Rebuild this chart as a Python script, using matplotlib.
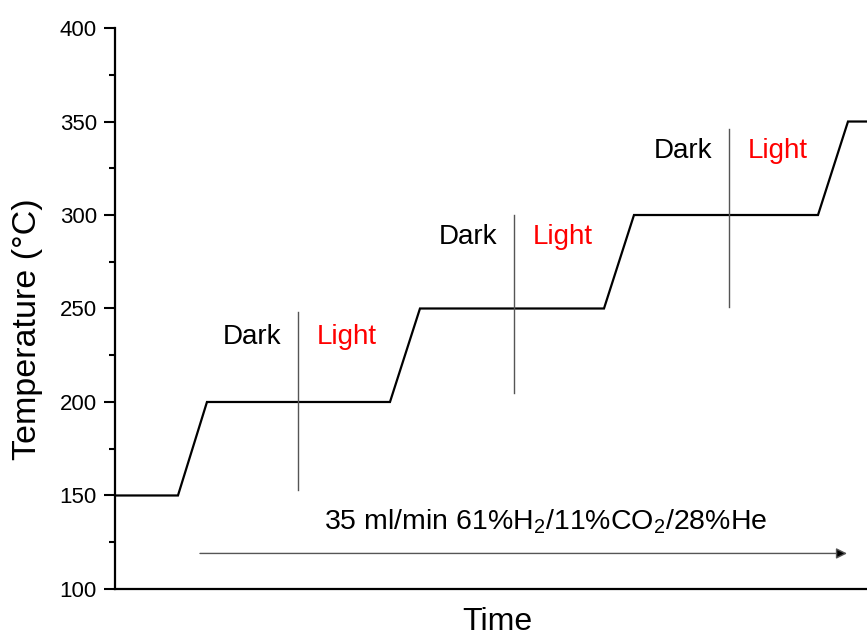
import matplotlib.pyplot as plt
from matplotlib.ticker import MultipleLocator

plt.rcParams['font.family'] = ['Liberation Sans', 'DejaVu Sans']
plt.rcParams['mathtext.fontset'] = 'custom'
plt.rcParams['mathtext.rm'] = 'Liberation Sans'

# temperature program (time in arbitrary units)
time = [0, 63, 92, 275, 305, 489, 519, 703, 733, 760]
temp = [150, 150, 200, 200, 250, 250, 300, 300, 350, 350]

# dark/light switch marks
switch_t = [183, 399, 614]
switch_lo = [153, 205, 251]
switch_hi = [248, 300, 346]
label_y = [235, 288, 334]

fig = plt.figure(figsize=(8.67, 6.37), dpi=100)
ax = fig.add_axes([0.1326, 0.0754, 0.8674, 0.8806])

ax.plot(time, temp, color='black', lw=1.6, solid_joinstyle='miter')

for t, lo, hi, ly in zip(switch_t, switch_lo, switch_hi, label_y):
    ax.plot([t, t], [lo, hi], color='#555555', lw=1)
    ax.text(t - 46, ly, 'Dark', ha='center', va='center', fontsize=20, color='black')
    ax.text(t + 49, ly, 'Light', ha='center', va='center', fontsize=20, color='red')

ax.annotate('', xy=(732, 119), xytext=(85, 119),
            arrowprops=dict(arrowstyle='-|>', edgecolor='#555555', facecolor='black',
                            lw=1, mutation_scale=16, shrinkA=0, shrinkB=0))
ax.text(431, 136, '35 ml/min 61%H$_\\mathregular{2}$/11%CO$_\\mathregular{2}$/28%He',
        ha='center', va='center', fontsize=20.5)

ax.set_xlim(0, 752)
ax.set_ylim(100, 400)
ax.yaxis.set_major_locator(MultipleLocator(50))
ax.yaxis.set_minor_locator(MultipleLocator(25))
ax.set_xticks([])
ax.tick_params(axis='y', which='major', length=8, width=1.5, labelsize=16, direction='out', pad=5)
ax.tick_params(axis='y', which='minor', length=4.5, width=1.5, direction='out')

for s in ['top', 'right']:
    ax.spines[s].set_visible(False)
for s in ['left', 'bottom']:
    ax.spines[s].set_linewidth(1.6)

ax.set_ylabel('Temperature (°C)', fontsize=24.5, va='center')
ax.yaxis.set_label_coords(-0.116, 0.463)
ax.set_xlabel('Time', fontsize=23, va='center')
ax.xaxis.set_label_coords(0.508, -0.058)

fig.savefig('out.png', dpi=100)
